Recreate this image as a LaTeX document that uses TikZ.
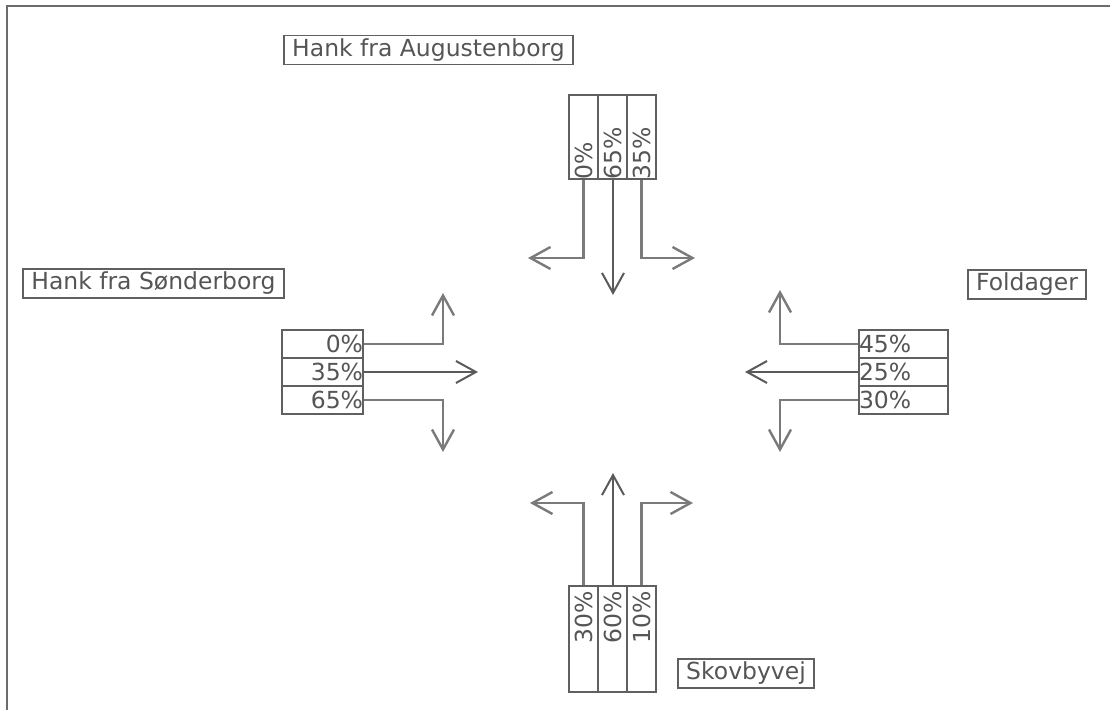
\documentclass[tikz,border=0pt]{standalone}
\usepackage{fontspec}
\setmainfont{DejaVu Sans}
\usetikzlibrary{arrows.meta}
\definecolor{txt}{HTML}{555555}
\definecolor{boxc}{HTML}{606060}
\definecolor{arrc}{HTML}{7A7A7A}
\definecolor{arrd}{HTML}{5A5A5A}
\tikzset{
  lbl/.style={draw=boxc, line width=1.2pt, text=txt, font=\fontsize{17.6}{20}\selectfont,
    inner xsep=6.2pt, inner ysep=0pt, minimum height=21.5pt},
  cellv/.style={draw=boxc, line width=1.1pt, text=txt, font=\fontsize{17.6}{20}\selectfont,
    rotate=90, inner sep=0pt, minimum height=21.75pt, text width=#1},
  cellh/.style={draw=boxc, line width=1.1pt, text=txt, font=\fontsize{17.6}{20}\selectfont,
    inner sep=0pt, minimum height=21pt, text width=#1},
  turn/.style={draw=arrc, line width=1.8pt, line join=miter,
    -{Straight Barb[length=15pt,width=16.5pt,line width=1.8pt]}},
  straight/.style={draw=arrd, line width=1.5pt,
    -{Straight Barb[length=15pt,width=16.5pt,line width=1.5pt]}},
  frame/.style={draw=gray!85!black, line width=1.9pt}
}
\begin{document}
\begin{tikzpicture}[x=0.75pt,y=-0.75pt]
\useasboundingbox (0,0) rectangle (1110,710);
\draw[frame] (7,711) -- (7,6) -- (1111,6);

% labels
\node[lbl] (aug) at (428.5,50) {Hank fra Augustenborg};
\node[lbl] (son) at (153.5,283.5) {Hank fra Sønderborg};
\node[lbl] (fol) at (1027,284.5) {Foldager};
\node[lbl] (sko) at (746,673.5) {Skovbyvej};

% top cells
\node[cellv=63pt, align=left] (t1) at (583.5,137) {0\%};
\node[cellv=63pt, align=left] (t2) at (613,137) {65\%};
\node[cellv=63pt, align=left] (t3) at (641.5,137) {35\%};

% bottom cells
\node[cellv=79.5pt, align=right] (b1) at (583.5,639) {30\%\hspace*{4pt}};
\node[cellv=79.5pt, align=right] (b2) at (613,639) {60\%\hspace*{4pt}};
\node[cellv=79.5pt, align=right] (b3) at (641.5,639) {10\%\hspace*{4pt}};

% left cells
\node[cellh=60.75pt, align=right] (l1) at (322.5,344) {0\%};
\node[cellh=60.75pt, align=right] (l2) at (322.5,372) {35\%};
\node[cellh=60.75pt, align=right] (l3) at (322.5,400) {65\%};

% right cells
\node[cellh=66.75pt, align=left] (r1) at (903.5,344) {45\%};
\node[cellh=66.75pt, align=left] (r2) at (903.5,372) {25\%};
\node[cellh=66.75pt, align=left] (r3) at (903.5,400) {30\%};

% arrow ends
\coordinate (tl) at (528,258);
\coordinate (tm) at (613,295);
\coordinate (tr) at (695,258);
\coordinate (lu) at (443,293);
\coordinate (lm) at (478,372);
\coordinate (ld) at (443,452);
\coordinate (ru) at (780,290);
\coordinate (rm) at (745,372);
\coordinate (rd) at (780,452);
\coordinate (bl) at (530,503);
\coordinate (bm) at (613,473);
\coordinate (br) at (693,503);

% arrows
\draw[turn] (t1.west) |- (tl);
\draw[straight] (t2.west) -- (tm);
\draw[turn] (t3.west) |- (tr);
\draw[turn] (l1.east) -| (lu);
\draw[straight] (l2.east) -- (lm);
\draw[turn] (l3.east) -| (ld);
\draw[turn] (r1.west) -| (ru);
\draw[straight] (r2.west) -- (rm);
\draw[turn] (r3.west) -| (rd);
\draw[turn] (b1.east) |- (bl);
\draw[straight] (b2.east) -- (bm);
\draw[turn] (b3.east) |- (br);
\end{tikzpicture}
\end{document}
